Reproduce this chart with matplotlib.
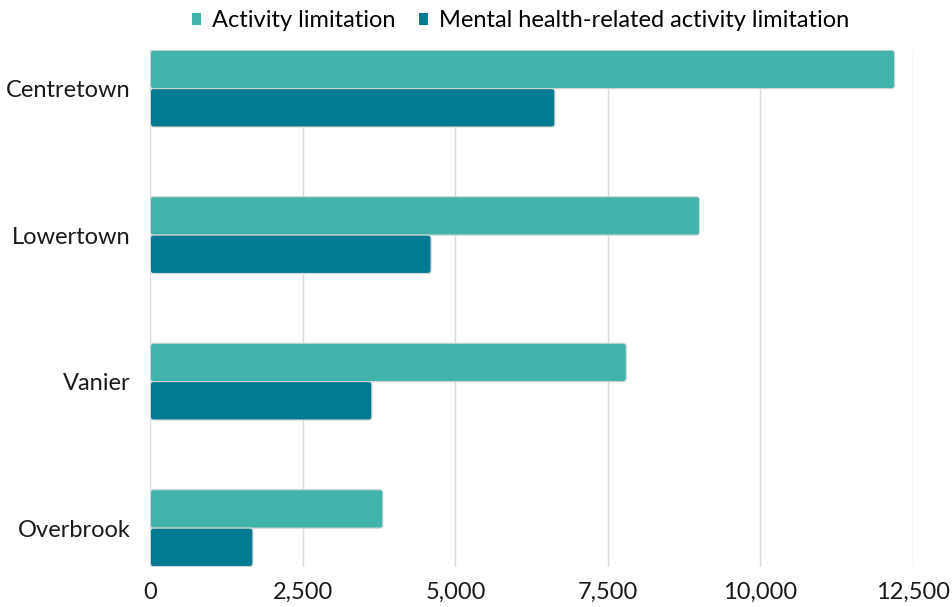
import matplotlib.pyplot as plt
from matplotlib.patches import FancyBboxPatch, Patch
from matplotlib.ticker import FuncFormatter
import numpy as np

plt.rcParams['font.family'] = ['Lato', 'DejaVu Sans']

neighbourhoods = ['Centretown', 'Lowertown', 'Vanier', 'Overbrook']
activity = [12200, 9000, 7800, 3810]
mental_health = [6630, 4600, 3630, 1680]
series_names = ['Activity limitation', 'Mental health-related activity limitation']
colors = ['#40B4AA', '#017A92']

fig = plt.figure(figsize=(9.52, 6.07), dpi=100)
ax = fig.add_axes([0.158, 0.066, 0.801, 0.852])

y = np.arange(len(neighbourhoods))
h = 0.262
bars1 = ax.barh(y - h / 2, activity, height=h, color=colors[0])
bars2 = ax.barh(y + h / 2, mental_health, height=h, color=colors[1])

# swap the plain rectangles for slightly rounded ones
for bars, c in ((bars1, colors[0]), (bars2, colors[1])):
    for r in bars:
        r.set_visible(False)
        p = FancyBboxPatch((r.get_x(), r.get_y()), r.get_width(), r.get_height(),
                           boxstyle='round,pad=0,rounding_size=50',
                           mutation_aspect=0.02 / 50,
                           facecolor=c, edgecolor='#d4d4d4', linewidth=0.8, zorder=3)
        ax.add_patch(p)

ax.set_xlim(0, 12500)
ax.set_ylim(len(neighbourhoods) - 1 + 0.265, -0.265)
ax.set_xticks(np.arange(0, 12501, 2500))
ax.xaxis.set_major_formatter(FuncFormatter(lambda v, _: f'{int(v):,}'))
ax.set_yticks(y)
ax.set_yticklabels(neighbourhoods)
ax.grid(axis='x', color='#d9d9d9', linewidth=1)
ax.set_axisbelow(True)
for s in ax.spines.values():
    s.set_visible(False)
ax.tick_params(axis='both', length=0, labelsize=17, colors='#1a1a1a')
ax.tick_params(axis='x', pad=11)
ax.tick_params(axis='y', pad=14)

handles = [Patch(facecolor=c, edgecolor='none') for c in colors]
ax.legend(handles, series_names, loc='upper center', bbox_to_anchor=(0.485, 1.118), ncol=2,
          frameon=False, fontsize=17, handlelength=0.4, handleheight=0.4,
          handletextpad=0.45, columnspacing=1.0)

fig.savefig('out.png', dpi=100, facecolor='white')
